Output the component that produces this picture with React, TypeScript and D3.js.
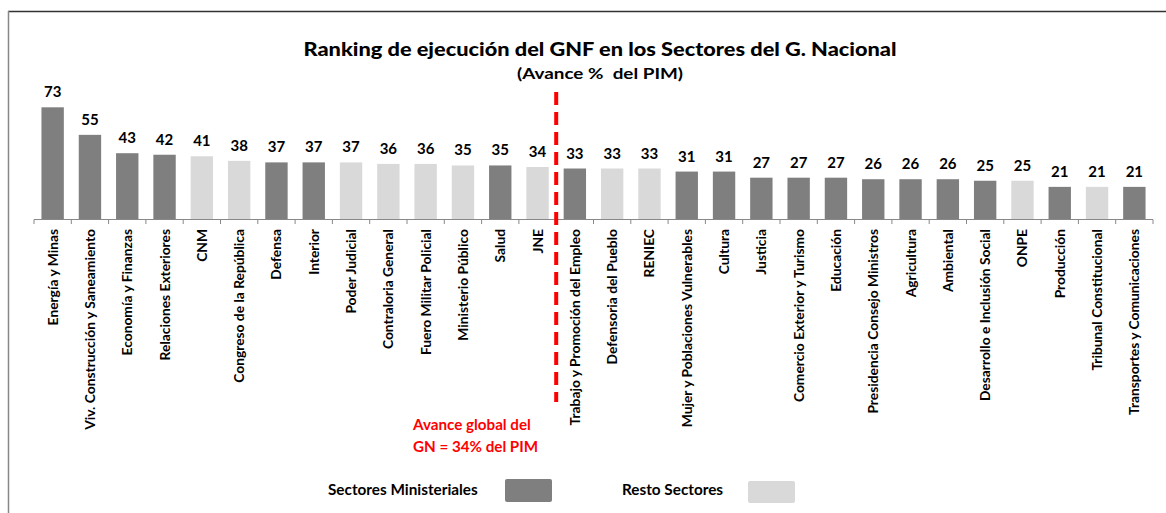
import React from "react";
import * as d3 from "d3";

const categories = [
  "Energía y Minas",
  "Viv. Construcción y Saneamiento",
  "Economía y Finanzas",
  "Relaciones Exteriores",
  "CNM",
  "Congreso de la República",
  "Defensa",
  "Interior",
  "Poder Judicial",
  "Contraloria General",
  "Fuero Militar Policial",
  "Ministerio Público",
  "Salud",
  "JNE",
  "Trabajo y Promoción del Empleo",
  "Defensoria del Pueblo",
  "RENIEC",
  "Mujer y Poblaciones Vulnerables",
  "Cultura",
  "Justicia",
  "Comercio Exterior y Turismo",
  "Educación",
  "Presidencia Consejo Ministros",
  "Agricultura",
  "Ambiental",
  "Desarrollo e Inclusión Social",
  "ONPE",
  "Producción",
  "Tribunal Constitucional",
  "Transportes y Comunicaciones",
];

const values = [73, 55, 43, 42, 41, 38, 37, 37, 37, 36, 36, 35, 35, 34, 33, 33, 33, 31, 31, 27, 27, 27, 26, 26, 26, 25, 25, 21, 21, 21];

// "M" = Sectores Ministeriales, "R" = Resto Sectores
const groups = ["M", "M", "M", "M", "R", "R", "M", "M", "R", "R", "R", "R", "M", "R", "M", "R", "R", "M", "M", "M", "M", "M", "M", "M", "M", "M", "R", "M", "R", "M"];

const legendLabels = ["Sectores Ministeriales", "Resto Sectores"];
const globalAvance = 34;
const splitIndex = 14;

const W = 1166;
const H = 513;
const FONT = "Lato, 'Open Sans', 'Liberation Sans', sans-serif";
const DARK = "#7f7f7f";
const LIGHT = "#d9d9d9";

export default function App() {
  const x = d3
    .scaleBand<string>()
    .domain(categories)
    .range([34, 1153])
    .paddingInner(0.4)
    .paddingOuter(0.2);
  const y = d3.scaleLinear().domain([0, 80]).range([219, 219 - 80 * 1.53]);
  const step = x.step();
  const bw = x.bandwidth();
  const x0 = 34;
  const ticks = d3.range(categories.length + 1).map((i) => x0 + i * step);
  const splitX = x0 + splitIndex * step;

  return (
    <svg
      width={W}
      height={H}
      style={{ position: "absolute", left: 0, top: 0, background: "#fff" }}
      fontFamily={FONT}
    >
      <rect x={0} y={0} width={W} height={H} fill="#fff" />
      {/* frame */}
      <line x1={8} x2={W} y1={11.5} y2={11.5} stroke="#333" strokeWidth={1.5} />
      <line x1={8.5} x2={8.5} y1={11} y2={H} stroke="#888" strokeWidth={1.5} />

      {/* title */}
      <text
        x={600}
        y={56}
        textAnchor="middle"
        fontSize={19.5}
        fontWeight="900"
        fill="#000"
        textLength={593}
        lengthAdjust="spacingAndGlyphs"
      >
        Ranking de ejecución del GNF en los Sectores del G. Nacional
      </text>
      <text
        x={600}
        y={79}
        textAnchor="middle"
        fontSize={15}
        fontWeight="bold"
        fill="#000"
        textLength={166}
        lengthAdjust="spacingAndGlyphs"
        style={{ whiteSpace: "pre" }}
      >
        {"(Avance %  del PIM)"}
      </text>

      {/* bars */}
      {categories.map((c, i) => (
        <rect
          key={c}
          x={x(c)!}
          y={y(values[i])}
          width={bw}
          height={y(0) - y(values[i])}
          fill={groups[i] === "M" ? DARK : LIGHT}
        />
      ))}

      {/* value labels */}
      {categories.map((c, i) => (
        <text
          key={"v" + c}
          x={x(c)! + bw / 2}
          y={y(values[i]) - 10}
          textAnchor="middle"
          fontSize={15}
          fontWeight="bold"
          fill="#000"
        >
          {values[i]}
        </text>
      ))}

      {/* axis */}
      <line x1={x0} x2={ticks[ticks.length - 1]} y1={219.5} y2={219.5} stroke="#888" strokeWidth={1} />
      {ticks.map((t, i) => (
        <line key={"t" + i} x1={t} x2={t} y1={219.5} y2={224} stroke="#888" strokeWidth={1} />
      ))}

      {/* category labels */}
      {categories.map((c) => {
        const cx = x(c)! + bw / 2;
        return (
          <text
            key={"c" + c}
            transform={`translate(${cx},229) rotate(-90)`}
            textAnchor="end"
            dy="0.36em"
            fontSize={13.8}
            fontWeight="bold"
            fill="#000"
          >
            {c}
          </text>
        );
      })}

      {/* global line */}
      <line
        x1={splitX}
        x2={splitX}
        y1={92}
        y2={402}
        stroke="#ff0000"
        strokeWidth={4}
        strokeDasharray="13 7"
      />
      <text x={413} y={430} fontSize={15.2} fontWeight="bold" fill="#ff0000">
        Avance global del
      </text>
      <text x={413} y={452} fontSize={15.2} fontWeight="bold" fill="#ff0000">
        {`GN = ${globalAvance}% del PIM`}
      </text>

      {/* legend */}
      <text x={328} y={495} fontSize={15.3} fontWeight="bold" fill="#000">
        {legendLabels[0]}
      </text>
      <rect x={505} y={479} width={47} height={23} rx={2} fill={DARK} />
      <text x={622} y={495} fontSize={15.3} fontWeight="bold" fill="#000">
        {legendLabels[1]}
      </text>
      <rect x={748} y={481} width={47} height={22} rx={2} fill={LIGHT} />
    </svg>
  );
}
